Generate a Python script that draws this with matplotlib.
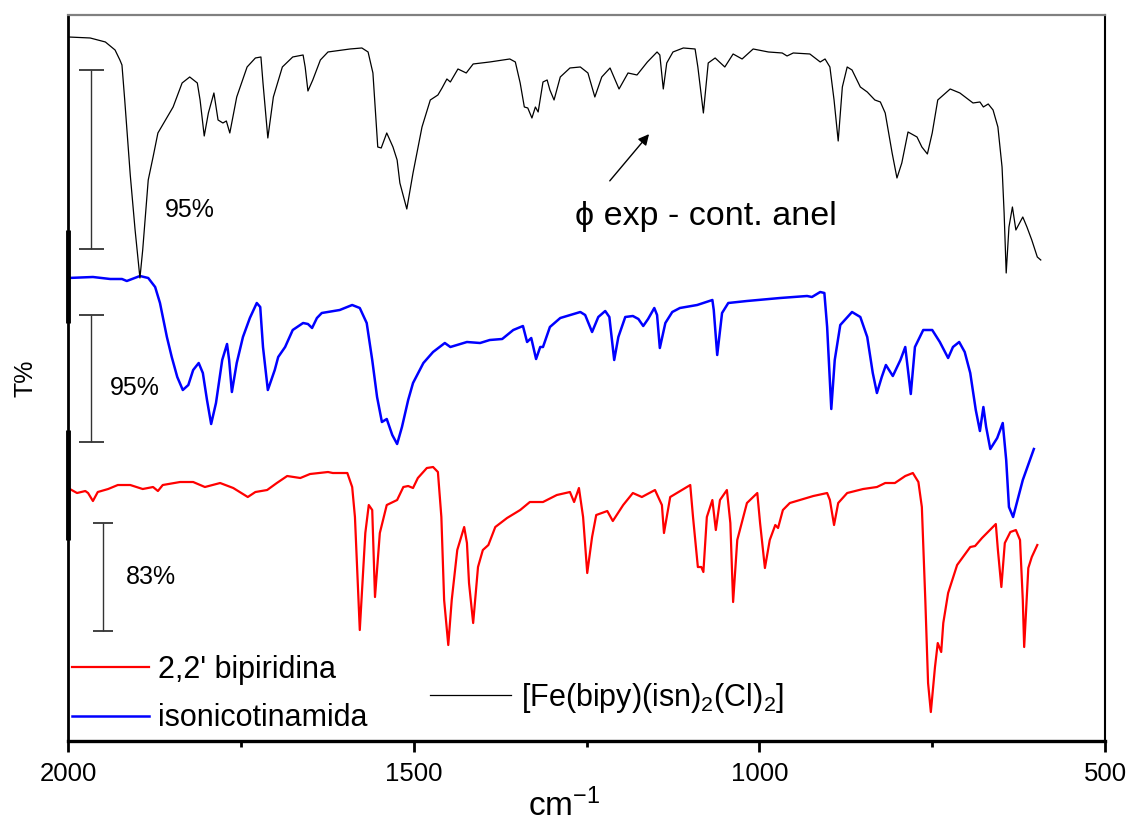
import numpy as np
import matplotlib
matplotlib.use("Agg")
import matplotlib.pyplot as plt

plt.rcParams['font.family'] = ['Liberation Sans', 'DejaVu Sans']
plt.rcParams['mathtext.fontset'] = 'custom'
plt.rcParams['mathtext.rm'] = 'Liberation Sans'
plt.rcParams['mathtext.it'] = 'Liberation Sans:italic'
plt.rcParams['mathtext.bf'] = 'Liberation Sans:bold'

# Espectros IV (unidades arbitrarias de T%, curvas desplazadas)
wn_complexo = [2000, 1968, 1946, 1932, 1925, 1922, 1918, 1910, 1903, 1896, 1892, 1884, 1877, 1870,
               1848, 1835, 1824, 1813, 1809, 1803, 1797, 1789, 1783, 1776, 1771, 1766, 1756, 1741,
               1729, 1721, 1718, 1711, 1703, 1690, 1675, 1660, 1657, 1653, 1646, 1635, 1624, 1592,
               1575, 1566, 1559, 1552, 1547, 1539, 1530, 1524, 1520, 1510, 1501, 1488, 1476, 1465,
               1459, 1452, 1447, 1436, 1424, 1414, 1390, 1361, 1353, 1346, 1340, 1335, 1329, 1324,
               1320, 1313, 1307, 1303, 1297, 1288, 1274, 1259, 1248, 1238, 1228, 1216, 1203, 1190,
               1177, 1162, 1148, 1144, 1139, 1134, 1125, 1110, 1093, 1089, 1081, 1074, 1064, 1050,
               1038, 1025, 1009, 987, 967, 960, 951, 927, 912, 905, 898, 892, 886, 880, 873, 866,
               854, 844, 833, 825, 818, 808, 801, 794, 785, 772, 765, 757, 750, 742, 724, 710, 691,
               681, 676, 669, 662, 655, 649, 646, 643, 639, 634, 629, 619, 613, 606, 598, 593]
t_complexo = [704, 703, 699, 691, 681, 676, 641, 566, 511, 463, 491, 561, 584, 608,
              634, 658, 664, 658, 641, 605, 628, 648, 621, 618, 620, 608, 644, 674,
              683, 684, 658, 603, 644, 674, 684, 686, 674, 650, 661, 681, 689, 692,
              693, 689, 668, 594, 593, 608, 594, 581, 558, 532, 568, 614, 641, 646,
              653, 662, 659, 672, 668, 677, 679, 682, 679, 658, 634, 633, 623, 634,
              629, 659, 661, 651, 641, 664, 673, 674, 668, 644, 664, 673, 652, 668,
              666, 679, 689, 686, 652, 678, 689, 693, 692, 674, 628, 678, 683, 674,
              687, 682, 692, 689, 688, 685, 688, 687, 679, 682, 674, 641, 600, 654, 674, 671,
              654, 649, 641, 639, 628, 588, 563, 578, 609, 604, 594, 587, 608, 641, 652, 648, 638,
              639, 634, 637, 631, 614, 574, 528, 468, 514, 534, 511, 524, 514, 501, 484, 481]

wn_isn = [2000, 1964, 1939, 1922, 1915, 1896, 1884, 1874, 1867, 1857, 1850, 1842, 1834, 1826,
          1819, 1811, 1805, 1799, 1793, 1786, 1777, 1770, 1767, 1763, 1756, 1747, 1737, 1727,
          1722, 1718, 1711, 1701, 1696, 1686, 1675, 1660, 1653, 1647, 1640, 1633, 1607, 1589,
          1578, 1568, 1560, 1553, 1546, 1539, 1531, 1524, 1517, 1508, 1501, 1486, 1472, 1455,
          1447, 1423, 1404, 1390, 1372, 1356, 1342, 1336, 1330, 1323, 1317, 1313, 1303, 1288,
          1259, 1252, 1242, 1233, 1223, 1217, 1210, 1204, 1194, 1183, 1175, 1168, 1161, 1152,
          1148, 1144, 1136, 1126, 1115, 1090, 1068, 1066, 1061, 1054, 1045, 1018, 970, 931,
          924, 912, 906, 902, 896, 891, 883, 866, 854, 844, 836, 830, 823, 817, 807, 796,
          789, 781, 775, 763, 750, 739, 727, 720, 711, 703, 695, 687, 681, 676, 672, 666,
          656, 648, 643, 639, 633, 619, 603]
t_isn = [463, 464, 462, 462, 460, 465, 463, 454, 438, 404, 384, 364, 351, 356,
         371, 378, 368, 341, 317, 338, 381, 397, 381, 349, 378, 404, 423, 438,
         434, 394, 351, 371, 384, 394, 411, 418, 417, 413, 423, 428, 431, 436,
         433, 418, 381, 344, 319, 322, 306, 297, 314, 341, 358, 378, 389, 398,
         394, 399, 398, 401, 402, 411, 415, 399, 403, 382, 394, 394, 414, 423,
         429, 426, 409, 424, 430, 424, 381, 404, 424, 425, 422, 415, 422, 433,
         426, 393, 418, 429, 433, 436, 441, 431, 386, 428, 438, 440, 443, 445,
         444, 449, 448, 414, 332, 381, 416, 429, 424, 404, 368, 348, 364, 376, 365, 381,
         394, 347, 394, 411, 411, 399, 383, 394, 399, 389, 368, 331, 310, 334, 314, 292,
         303, 318, 281, 234, 224, 261, 292]

wn_bipy = [2000, 1987, 1975, 1971, 1964, 1957, 1942, 1928, 1910, 1892, 1877, 1870, 1863, 1838,
           1819, 1802, 1780, 1761, 1740, 1729, 1712, 1698, 1683, 1664, 1650, 1624, 1617, 1596,
           1589, 1585, 1578, 1570, 1565, 1560, 1556, 1549, 1539, 1524, 1515, 1508, 1501, 1494,
           1481, 1472, 1465, 1460, 1456, 1450, 1445, 1437, 1427, 1423, 1420, 1414, 1407, 1400,
           1392, 1382, 1365, 1346, 1332, 1313, 1293, 1274, 1268, 1261, 1255, 1249, 1242, 1236,
           1220, 1212, 1197, 1183, 1170, 1151, 1141, 1138, 1129, 1100, 1096, 1089, 1084, 1081,
           1076, 1068, 1063, 1057, 1047, 1042, 1038, 1032, 1018, 1003, 999, 992, 985, 977,
           973, 966, 956, 922, 902, 898, 892, 886, 873, 850, 830, 818, 804, 789, 778, 770,
           765, 760, 756, 752, 746, 742, 737, 734, 727, 714, 695, 688, 678, 658, 655, 650,
           645, 637, 629, 623, 619, 617, 611, 606, 598]
t_bipy = [253, 248, 250, 248, 240, 249, 252, 256, 256, 252, 254, 250, 256, 259,
          259, 254, 258, 253, 244, 249, 251, 258, 265, 263, 267, 269, 268, 268,
          254, 224, 111, 208, 236, 231, 144, 208, 236, 241, 254, 255, 253, 263,
          273, 274, 269, 224, 141, 96, 141, 191, 214, 198, 158, 118, 174, 191,
          196, 214, 223, 231, 239, 239, 246, 249, 239, 253, 224, 168, 204, 226,
          230, 220, 236, 248, 244, 251, 236, 208, 244, 256, 224, 174, 174, 169,
          224, 241, 211, 241, 251, 218, 139, 201, 238, 248, 218, 173, 201, 216,
          213, 231, 238, 245, 248, 241, 216, 238, 248, 252, 254, 258, 258, 265, 268, 259,
          234, 141, 58, 29, 74, 98, 89, 118, 148, 176, 194, 195, 203, 217, 191, 154,
          198, 209, 211, 201, 141, 94, 173, 184, 196]

# barras de escala: (posicao, inicio, fim, rotulo_x, rotulo_y, texto)
barras = [(1967, 492, 671, 1860, 531, '95%'),
          (1967, 299, 426, 1939, 353, '95%'),
          (1949, 110, 218, 1916, 164, '83%')]
capsizes = [9, 9, 7.5]

fig, ax = plt.subplots(figsize=(11.32, 8.23), dpi=100)
fig.subplots_adjust(left=0.0601, right=0.9762, bottom=0.0996, top=0.9818)

l_bipy, = ax.plot(wn_bipy, t_bipy, color='#ff0000', lw=1.6)
l_isn, = ax.plot(wn_isn, t_isn, color='#0000ff', lw=1.8)
l_comp, = ax.plot(wn_complexo, t_complexo, color='black', lw=0.9)

for (xb, y0, y1, xt, yt, txt), cs in zip(barras, capsizes):
    ax.errorbar([xb], [(y0 + y1) / 2], yerr=[[(y1 - y0) / 2]], fmt='none',
                ecolor='#333333', elinewidth=1.0, capsize=cs, capthick=1.3)
    ax.text(xt, yt, txt, fontsize=18, va='center', ha='left')

ax.annotate('', xy=(1157, 609), xytext=(1219, 558),
            arrowprops=dict(arrowstyle='-|>', color='black', lw=1.0, mutation_scale=16))
ax.text(1267, 524, 'ϕ exp - cont. anel', fontsize=24.5, va='center', ha='left')

ax.set_xlim(2000, 500)
ax.set_ylim(0, 726)
ax.set_xticks([2000, 1500, 1000, 500])
ax.set_xticklabels(['2000', '1500', '1000', '500'])
ax.set_xticks([1750, 1250, 750], minor=True)
ax.tick_params(axis='x', which='major', length=8, width=2, labelsize=18.5, pad=7, direction='out')
ax.tick_params(axis='x', which='minor', length=4, width=2, direction='out')
ax.set_yticks([])

ax.set_xlabel(r'cm$^{\mathregular{-1}}$', fontsize=24)
ax.xaxis.set_label_coords(0.478, -0.066)
ax.set_ylabel('T%', fontsize=18, labelpad=22)

ax.spines['bottom'].set_linewidth(2.4)
ax.spines['left'].set_linewidth(2.0)
ax.spines['top'].set_color('#808080')
ax.spines['top'].set_linewidth(1.6)
ax.spines['right'].set_linewidth(1.5)

# segmentos grossos do eixo esquerdo (eixos empilhados)
for y0, y1 in [(0.576, 0.704), (0.277, 0.428)]:
    ax.plot([0, 0], [y0, y1], transform=ax.transAxes, color='black', lw=3.5,
            clip_on=False, solid_capstyle='butt')

leg1 = ax.legend([l_bipy, l_isn], ["2,2' bipiridina", 'isonicotinamida'],
                 loc='center left', bbox_to_anchor=(0.004, 0.0647), frameon=False,
                 fontsize=22, handlelength=2.5, handletextpad=0.32,
                 labelspacing=0.6, borderpad=0, borderaxespad=0)
ax.add_artist(leg1)
ax.legend([l_comp], [r'[Fe(bipy)(isn)$_{\mathregular{2}}$(Cl)$_{\mathregular{2}}$]'],
          loc='center left', bbox_to_anchor=(0.349, 0.059), frameon=False,
          fontsize=22, handlelength=2.65, handletextpad=0.33,
          borderpad=0, borderaxespad=0)

fig.savefig('out.png', dpi=100)
